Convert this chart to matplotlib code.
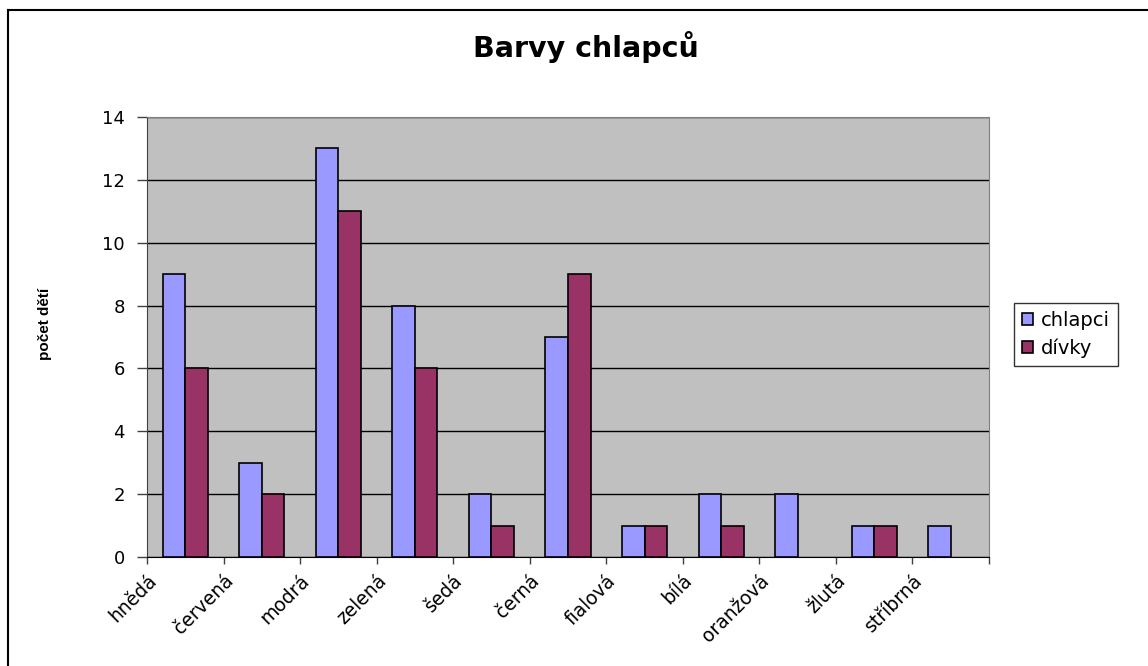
import numpy as np
from matplotlib import pyplot as plt
from matplotlib import lines
from matplotlib.transforms import ScaledTranslation

categories = ['hnědá', 'červená', 'modrá', 'zelená', 'šedá', 'černá',
              'fialová', 'bílá', 'oranžová', 'žlutá', 'stříbrná']
chlapci = [9, 3, 13, 8, 2, 7, 1, 2, 2, 1, 1]
divky = [6, 2, 11, 6, 1, 9, 1, 1, 0, 1, 0]
series_names = ['chlapci', 'dívky']
y_ticks = [0, 2, 4, 6, 8, 10, 12, 14]

plt.rcParams['font.family'] = ['DejaVu Sans']

W, H = 1148, 666
fig = plt.figure(figsize=(W / 100, H / 100), dpi=100)
fig.patch.set_facecolor('white')

# plot area in pixel coords of the reference
left, right, top, bottom = 147, 989, 117, 557
ax = fig.add_axes([left / W, 1 - bottom / H, (right - left) / W, (bottom - top) / H])
ax.set_facecolor('#C0C0C0')

x = np.arange(len(categories))
w = 0.294
# zero bars get no outline, otherwise a stray line sits on the axis
ax.bar(x - w / 2, chlapci, w, color='#9999FF', edgecolor='black',
       linewidth=[1.2 if v > 0 else 0 for v in chlapci],
       label=series_names[0], zorder=3)
ax.bar(x + w / 2, divky, w, color='#993366', edgecolor='black',
       linewidth=[1.2 if v > 0 else 0 for v in divky],
       label=series_names[1], zorder=3)

ax.set_xlim(-0.5, len(categories) - 0.5)
ax.set_ylim(0, 14)
ax.set_yticks(y_ticks)
ax.set_yticklabels([str(v) for v in y_ticks], fontsize=13)
ax.grid(axis='y', color='black', linewidth=1, zorder=1)

# category labels sit on the boundary ticks, like the Excel original
ax.set_xticks(np.arange(len(categories) + 1) - 0.5)
ax.set_xticklabels(categories + [''], rotation=45, ha='right',
                   rotation_mode='anchor', fontsize=13.5)
for lab in ax.get_xticklabels():
    lab.set_transform(lab.get_transform() + ScaledTranslation(0.13, 0, fig.dpi_scale_trans))

ax.tick_params(axis='x', length=5, width=1, color='#404040', pad=5)
ax.tick_params(axis='y', length=7, width=1, color='#404040', pad=9)

for side in ['top', 'right']:
    ax.spines[side].set_color('#808080')
ax.spines['left'].set_color('#404040')
ax.spines['bottom'].set_color('black')

ax.set_ylabel('počet dětí', fontsize=11, fontweight='bold', family='Liberation Sans')
ax.yaxis.set_label_coords(-0.113, 0.53)

fig.text(0.51, 0.929, 'Barvy chlapců', ha='center', va='center',
         fontsize=20.5, fontweight='bold')

leg = ax.legend(loc='upper left', bbox_to_anchor=(1014 / W, 1 - 303 / H),
                bbox_transform=fig.transFigure, fontsize=14, frameon=True,
                fancybox=False, handlelength=0.6, handleheight=0.6,
                handletextpad=0.4, borderpad=0.4, labelspacing=0.45,
                borderaxespad=0)
leg.get_frame().set_edgecolor('black')
leg.get_frame().set_linewidth(1)

# outer chart border (only top and left edges show in the reference)
fig.add_artist(lines.Line2D([8 / W, 8 / W], [0, 1 - 10 / H], color='black',
                            linewidth=1.5, transform=fig.transFigure))
fig.add_artist(lines.Line2D([8 / W, 1], [1 - 10 / H, 1 - 10 / H], color='black',
                            linewidth=1.5, transform=fig.transFigure))

fig.savefig('out.png', dpi=100)
